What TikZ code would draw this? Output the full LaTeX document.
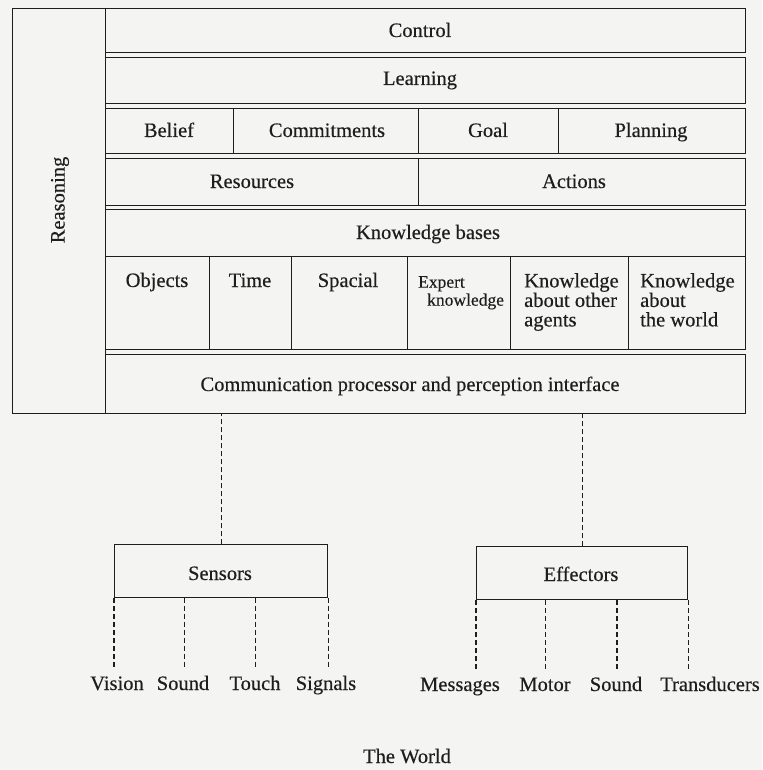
\documentclass[tikz,border=0pt]{standalone}
\usepackage{fontspec}
\setmainfont{Liberation Serif}[FakeBold=0.35]
\usetikzlibrary{calc}
\definecolor{bg}{RGB}{244,244,242}
\definecolor{ink}{RGB}{30,30,30}
\begin{document}
\begin{tikzpicture}[x=1pt,y=-1pt,
  box/.style={draw=ink, line width=1.3pt, inner sep=0pt, anchor=north west},
  txt/.style={font=\fontsize{20.5}{19.5}\selectfont, text=ink, inner sep=0pt, anchor=base},
  mtxt/.style={font=\fontsize{20.5}{19.5}\selectfont, text=ink, inner sep=0pt, anchor=north west, align=left},
  stxt/.style={font=\fontsize{17.5}{18}\selectfont, text=ink, inner sep=0pt, anchor=north west, align=left},
  link/.style={draw=ink, line width=1.1pt, dash pattern=on 5pt off 3pt},
  leg/.style={link, shorten >=6pt}]
\path[use as bounding box, fill=bg] (0,0) rectangle (762,770);

% reasoning column
\node[box, minimum width=93pt, minimum height=405pt] (reason) at (12,8) {};
\node[txt, anchor=center, rotate=90] (reasont) at (60,200) {Reasoning};

% rows
\node[box, minimum width=640pt, minimum height=44pt] (control) at (105,8) {};
\node[txt] (controlt) at (420,37) {Control};
\node[box, minimum width=640pt, minimum height=46pt] (learn) at (105,57) {};
\node[txt] (learnt) at (420,85) {Learning};

\node[box, minimum width=128pt, minimum height=45pt] (belief) at (105,108) {};
\node[box, minimum width=185pt, minimum height=45pt] (commit) at (233,108) {};
\node[box, minimum width=140pt, minimum height=45pt] (goal) at (418,108) {};
\node[box, minimum width=187pt, minimum height=45pt] (plan) at (558,108) {};
\node[txt] (belieft) at (169,137) {Belief};
\node[txt] (committ) at (327,137) {Commitments};
\node[txt] (goalt) at (488,137) {Goal};
\node[txt] (plant) at (651,137) {Planning};

\node[box, minimum width=313pt, minimum height=47pt] (res) at (105,158) {};
\node[box, minimum width=327pt, minimum height=47pt] (act) at (418,158) {};
\node[txt] (rest) at (252,188) {Resources};
\node[txt] (actt) at (574,188) {Actions};

\node[box, minimum width=640pt, minimum height=140pt] (kb) at (105,209) {};
\node[txt] (kbt) at (428,239) {Knowledge bases};
\node[box, minimum width=104pt, minimum height=93pt] (obj) at (105,256) {};
\node[box, minimum width=82pt, minimum height=93pt] (time) at (209,256) {};
\node[box, minimum width=116pt, minimum height=93pt] (spac) at (291,256) {};
\node[box, minimum width=103pt, minimum height=93pt] (expert) at (407,256) {};
\node[box, minimum width=118pt, minimum height=93pt] (kao) at (510,256) {};
\node[box, minimum width=117pt, minimum height=93pt] (kaw) at (628,256) {};
\node[txt] (objt) at (157,287) {Objects};
\node[txt] (timet) at (250,287) {Time};
\node[txt] (spact) at (348,287) {Spacial};
\node[stxt] (expertt) at (418,276) {Expert\\\hspace*{9pt}knowledge};
\node[mtxt] (kaot) at (524,273) {Knowledge\\about other\\agents};
\node[mtxt] (kawt) at (640,273) {Knowledge\\about\\the world};

\node[box, minimum width=640pt, minimum height=59pt] (comm) at (105,354) {};
\node[txt] (commt) at (410,391) {Communication processor and perception interface};

% sensors / effectors
\node[box, minimum width=213pt, minimum height=53pt] (sensors) at (114,544) {};
\node[txt] (sensorst) at (220,580) {Sensors};
\node[box, minimum width=211pt, minimum height=53pt] (effectors) at (476,546) {};
\node[txt] (effectorst) at (581,581) {Effectors};

\draw[link] (sensors.north) -- (sensors.north |- comm.south);
\draw[link] (effectors.north) -- (effectors.north |- comm.south);

% leaf labels
\node[txt] (vision) at (117,690) {Vision};
\node[txt] (sound1) at (183,690) {Sound};
\node[txt] (touch) at (255,690) {Touch};
\node[txt] (signals) at (326,690) {Signals};
\node[txt] (messages) at (460,691) {Messages};
\node[txt] (motor) at (545,691) {Motor};
\node[txt] (sound2) at (616,691) {Sound};
\node[txt] (transd) at (710,691) {Transducers};

\coordinate (s1) at (sensors.south west);
\coordinate (s2) at ($(sensors.south west)!0.329!(sensors.south east)$);
\coordinate (s3) at ($(sensors.south west)!0.662!(sensors.south east)$);
\coordinate (s4) at (sensors.south east);
\coordinate (e1) at (effectors.south west);
\coordinate (e2) at ($(effectors.south west)!0.327!(effectors.south east)$);
\coordinate (e3) at ($(effectors.south west)!0.664!(effectors.south east)$);
\coordinate (e4) at (effectors.south east);

\draw[leg] (s1) -- (s1 |- vision.north);
\draw[leg] (s2) -- (s2 |- sound1.north);
\draw[leg] (s3) -- (s3 |- touch.north);
\draw[leg] (s4) -- (s4 |- signals.north);
\draw[leg] (e1) -- (e1 |- messages.north);
\draw[leg] (e2) -- (e2 |- motor.north);
\draw[leg] (e3) -- (e3 |- sound2.north);
\draw[leg] (e4) -- (e4 |- transd.north);

\node[txt] (world) at (407,763) {The World};
\end{tikzpicture}
\end{document}
